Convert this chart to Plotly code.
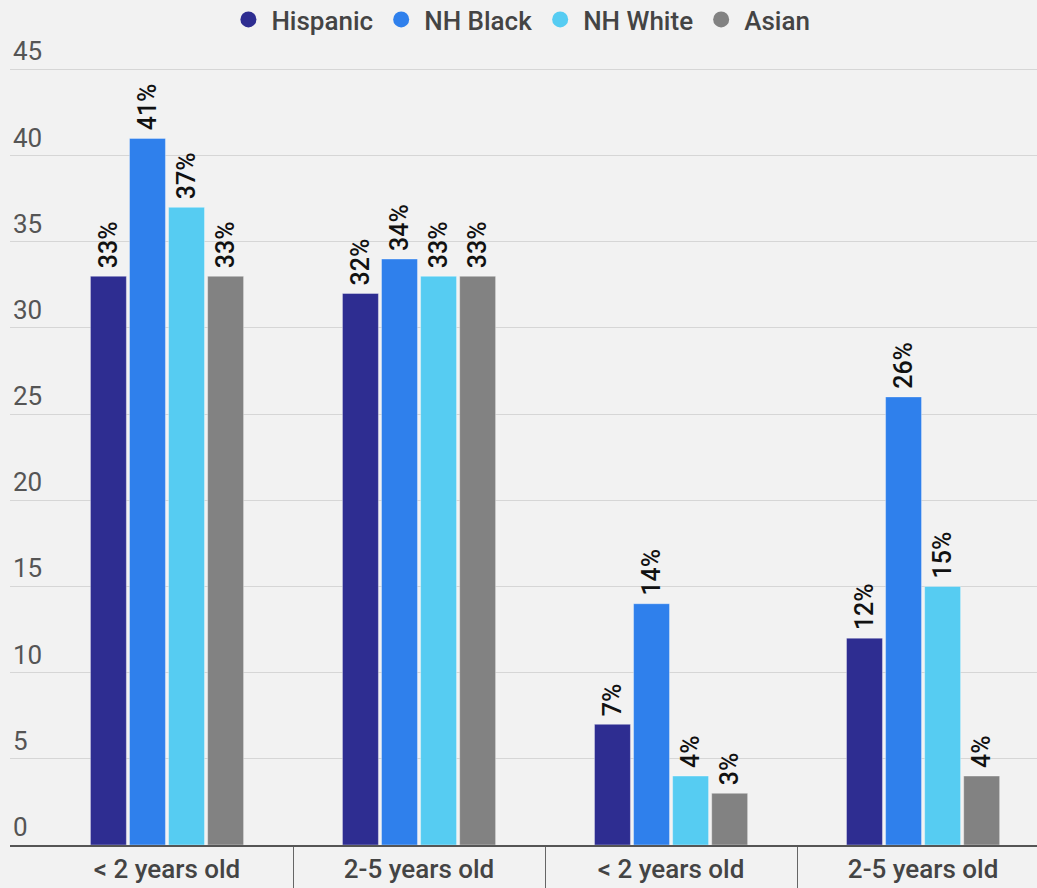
import plotly.graph_objects as go

# Age groups (two cohorts, each split into the same two age bands)
categories = ["g1", "g2", "g3", "g4"]
category_labels = ["< 2 years old", "2-5 years old", "< 2 years old", "2-5 years old"]

series_names = ["Hispanic", "NH Black", "NH White", "Asian"]
hispanic = [33, 32, 7, 12]
nh_black = [41, 34, 14, 26]
nh_white = [37, 33, 4, 15]
asian = [33, 33, 3, 4]
series_values = [hispanic, nh_black, nh_white, asian]
series_colors = ["#2e2d91", "#2f80ec", "#56ccf2", "#828282"]

y_ticks = [0, 5, 10, 15, 20, 25, 30, 35, 40, 45]

FONT = "Roboto, Arial, sans-serif"

fig = go.Figure()

for name, vals, color in zip(series_names, series_values, series_colors):
    fig.add_trace(go.Bar(
        x=categories,
        y=vals,
        name=name,
        marker=dict(color=color, line=dict(color="rgba(255,255,255,0.35)", width=1)),
        # thin space keeps the rotated label a little clear of the bar end
        text=[f"\u2009{v}%" for v in vals],
        textposition="outside",
        textangle=-90,
        constraintext="none",
        textfont=dict(family=FONT, size=25, color="#111111", weight=500),
        cliponaxis=False,
        showlegend=False,
        hoverinfo="skip",
    ))

# round legend markers
for name, color in zip(series_names, series_colors):
    fig.add_trace(go.Scatter(
        x=[None], y=[None], mode="markers", name=name,
        marker=dict(symbol="circle", size=22, color=color),
    ))

fig.update_layout(
    width=1037,
    height=888,
    paper_bgcolor="#f2f2f2",
    plot_bgcolor="#f2f2f2",
    margin=dict(l=10, r=0, t=35, b=43, autoexpand=False),
    barmode="group",
    bargap=0.38,
    bargroupgap=0.08,
    font=dict(family=FONT, color="#444444"),
    legend=dict(
        orientation="h",
        x=0.497, xanchor="center",
        y=0.978, yref="container", yanchor="middle",
        font=dict(family=FONT, size=26, color="#444444", weight=500),
        itemsizing="trace",
        itemwidth=36,
        bgcolor="rgba(0,0,0,0)",
    ),
    xaxis=dict(
        type="category",
        categoryorder="array",
        categoryarray=categories,
        tickvals=categories,
        ticktext=category_labels,
        range=[-0.623, 3.452],
        tickson="boundaries",
        ticks="outside",
        ticklen=44,
        tickcolor="#666666",
        tickwidth=1,
        showline=True,
        linecolor="#555555",
        linewidth=2,
        showgrid=False,
        tickfont=dict(family=FONT, size=26, color="#444444", weight=500),
        fixedrange=True,
    ),
    yaxis=dict(
        range=[0, 47],
        tickvals=y_ticks,
        ticklabelposition="inside top",
        showgrid=True,
        gridcolor="#d6d6d6",
        gridwidth=1,
        zeroline=False,
        showline=False,
        tickfont=dict(family=FONT, size=26, color="#555555"),
        fixedrange=True,
    ),
)

fig.write_html("out.html")
